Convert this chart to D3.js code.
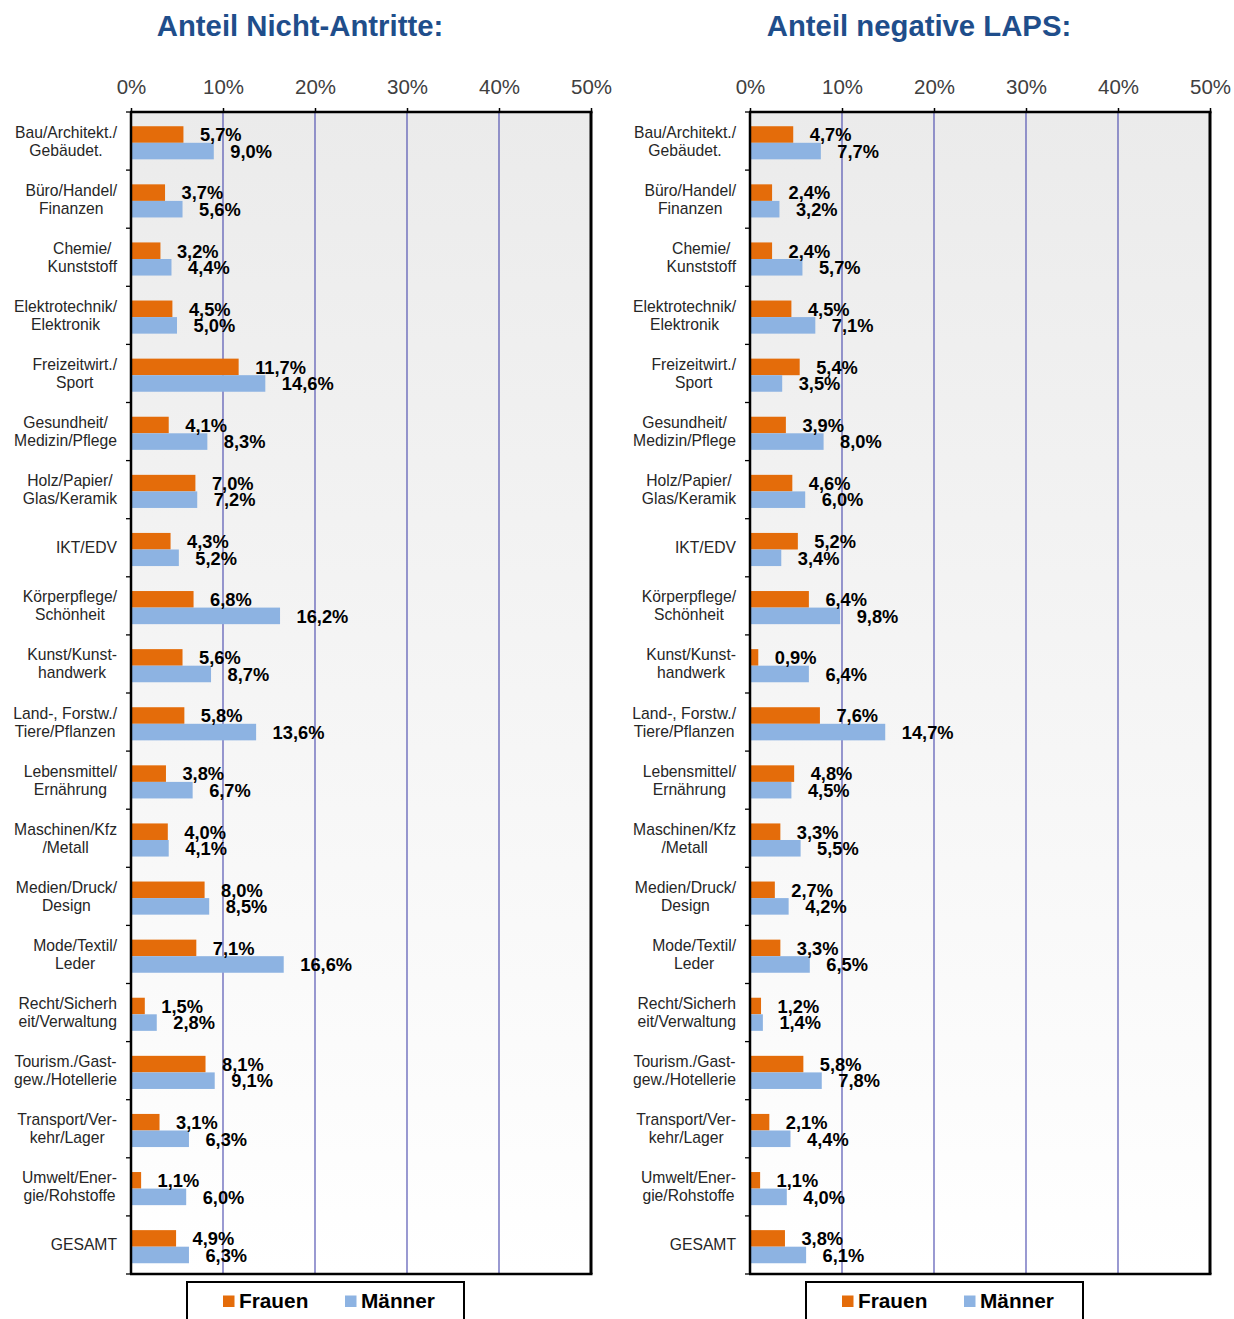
<!DOCTYPE html>
<html>
<head>
<meta charset="utf-8">
<script src="https://cdn.jsdelivr.net/npm/d3@7"></script>
<style>
  body { margin: 0; background: #fff; }
  svg { display: block; font-family: Arial, "Liberation Sans", sans-serif; }
</style>
</head>
<body>
<div id="chart"></div>
<script>
// categories (label lines)
let categories = [
    ['Bau/Architekt./', 'Gebäudet.'],
    ['Büro/Handel/', 'Finanzen'],
    ['Chemie/', 'Kunststoff'],
    ['Elektrotechnik/', 'Elektronik'],
    ['Freizeitwirt./', 'Sport'],
    ['Gesundheit/', 'Medizin/Pflege'],
    ['Holz/Papier/', 'Glas/Keramik'],
    ['IKT/EDV'],
    ['Körperpflege/', 'Schönheit'],
    ['Kunst/Kunst-', 'handwerk'],
    ['Land-, Forstw./', 'Tiere/Pflanzen'],
    ['Lebensmittel/', 'Ernährung'],
    ['Maschinen/Kfz', '/Metall'],
    ['Medien/Druck/', 'Design'],
    ['Mode/Textil/', 'Leder'],
    ['Recht/Sicherh', 'eit/Verwaltung'],
    ['Tourism./Gast-', 'gew./Hotellerie'],
    ['Transport/Ver-', 'kehr/Lager'],
    ['Umwelt/Ener-', 'gie/Rohstoffe'],
    ['GESAMT']
];

// Anteil Nicht-Antritte (%)
let antritteFrauen = [5.7, 3.7, 3.2, 4.5, 11.7, 4.1, 7.0, 4.3, 6.8, 5.6, 5.8, 3.8, 4.0, 8.0, 7.1, 1.5, 8.1, 3.1, 1.1, 4.9];
let antritteMaenner = [9.0, 5.6, 4.4, 5.0, 14.6, 8.3, 7.2, 5.2, 16.2, 8.7, 13.6, 6.7, 4.1, 8.5, 16.6, 2.8, 9.1, 6.3, 6.0, 6.3];

// Anteil negative LAPS (%)
let lapsFrauen = [4.7, 2.4, 2.4, 4.5, 5.4, 3.9, 4.6, 5.2, 6.4, 0.9, 7.6, 4.8, 3.3, 2.7, 3.3, 1.2, 5.8, 2.1, 1.1, 3.8];
let lapsMaenner = [7.7, 3.2, 5.7, 7.1, 3.5, 8.0, 6.0, 3.4, 9.8, 6.4, 14.7, 4.5, 5.5, 4.2, 6.5, 1.4, 7.8, 4.4, 4.0, 6.1];

let xTicks = [0, 10, 20, 30, 40, 50];
let seriesNames = ['Frauen', 'Männer'];
let seriesColors = ['#e46c0a', '#8db3e2'];

let W = 1234, H = 1319;
let plotTop = 112, plotBottom = 1274, plotWidth = 460;

let svg = d3.select('#chart')
    .append('svg')
    .attr('width', W)
    .attr('height', H);

// background gradient of the plot areas
let grad = svg.append('defs').append('linearGradient')
    .attr('id', 'bg-grad')
    .attr('x1', 0).attr('y1', 0)
    .attr('x2', 0).attr('y2', 1);
grad.append('stop').attr('offset', '0%').attr('stop-color', '#ebebeb');
grad.append('stop').attr('offset', '100%').attr('stop-color', '#ffffff');

let fmt = v => v.toFixed(1).replace('.', ',') + '%';

function panel(x0, title, frauen, maenner) {
    let g = svg.append('g');
    let keys = categories.map((c, i) => i);

    let x = d3.scaleLinear().domain([0, 50]).range([x0, x0 + plotWidth]);
    let y = d3.scaleBand().domain(keys).range([plotTop, plotBottom]).padding(0);
    let bw = y.bandwidth();
    let ySub = d3.scaleBand().domain(seriesNames).range([0.245 * bw, 0.815 * bw]).padding(0);

    // title
    g.append('text')
        .attr('x', x0 + 169)
        .attr('y', 36)
        .attr('text-anchor', 'middle')
        .attr('font-size', 29.3)
        .attr('font-weight', 'bold')
        .attr('fill', '#1f4e8b')
        .text(title);

    // plot background
    g.append('rect')
        .attr('x', x0).attr('y', plotTop)
        .attr('width', plotWidth).attr('height', plotBottom - plotTop)
        .attr('fill', 'url(#bg-grad)');

    // gridlines
    g.append('g').selectAll('line')
        .data(xTicks.slice(1, -1))
        .enter().append('line')
        .attr('x1', d => x(d)).attr('x2', d => x(d))
        .attr('y1', plotTop).attr('y2', plotBottom)
        .attr('stroke', '#4646ac')
        .attr('stroke-width', 1.1);

    // top axis
    let xAxis = d3.axisTop(x)
        .tickValues(xTicks)
        .tickSize(4)
        .tickPadding(6)
        .tickFormat(d => d + '%');
    let ax = g.append('g')
        .attr('transform', 'translate(0,' + plotTop + ')')
        .call(xAxis);
    ax.select('.domain').remove();
    ax.selectAll('.tick line').attr('stroke', '#000').attr('stroke-width', 1.5);
    ax.selectAll('.tick text')
        .attr('font-size', 20.5)
        .attr('font-family', 'Arial, "Liberation Sans", sans-serif')
        .attr('fill', '#404040')
        .attr('y', -18.5);

    // bars
    let rows = g.append('g').selectAll('g')
        .data(keys)
        .enter().append('g')
        .attr('transform', d => 'translate(0,' + y(d) + ')');

    let vals = i => [
        { key: 'Frauen', value: frauen[i] },
        { key: 'Männer', value: maenner[i] }
    ];

    rows.selectAll('rect')
        .data(vals)
        .enter().append('rect')
        .attr('x', x(0))
        .attr('y', d => ySub(d.key))
        .attr('width', d => x(d.value) - x(0))
        .attr('height', ySub.bandwidth())
        .attr('fill', (d, i) => seriesColors[i]);

    rows.selectAll('text.val')
        .data(vals)
        .enter().append('text')
        .attr('class', 'val')
        .attr('x', d => x(d.value) + 16.5)
        .attr('y', d => ySub(d.key) + ySub.bandwidth() / 2 + 6.8)
        .attr('font-size', 18.3)
        .attr('font-weight', 'bold')
        .attr('fill', '#000')
        .text(d => fmt(d.value));

    // category labels: lines centered within a right-aligned block
    rows.each(function(i) {
        let lines = categories[i];
        let t = d3.select(this).append('text')
            .attr('font-size', 15.7)
            .attr('fill', '#262626')
            .attr('text-anchor', 'middle');
        let spans = t.selectAll('tspan')
            .data(lines)
            .enter().append('tspan')
            .text(d => d);
        let maxW = 0;
        spans.each(function() { maxW = Math.max(maxW, this.getComputedTextLength()); });
        let cx = x0 - 14 - maxW / 2;
        let lh = 18;
        let startY = bw / 2 - (lines.length - 1) * lh / 2 + 5.5;
        spans.attr('x', cx).attr('y', (d, k) => startY + k * lh);
    });

    // left axis ticks at category boundaries
    let bounds = keys.map(k => y(k)).concat([plotBottom]);
    g.append('g').selectAll('line')
        .data(bounds)
        .enter().append('line')
        .attr('x1', x0 - 5).attr('x2', x0)
        .attr('y1', d => d).attr('y2', d => d)
        .attr('stroke', '#000')
        .attr('stroke-width', 1.3);

    // frame
    g.append('line').attr('x1', x0 - 1).attr('x2', x0 + plotWidth + 1.5)
        .attr('y1', plotTop).attr('y2', plotTop)
        .attr('stroke', '#000').attr('stroke-width', 2.5);
    g.append('line').attr('x1', x0 - 1).attr('x2', x0 + plotWidth + 1.5)
        .attr('y1', plotBottom).attr('y2', plotBottom)
        .attr('stroke', '#000').attr('stroke-width', 2.5);
    g.append('line').attr('x1', x0).attr('x2', x0)
        .attr('y1', plotTop).attr('y2', plotBottom)
        .attr('stroke', '#000').attr('stroke-width', 2.5);
    g.append('line').attr('x1', x0 + plotWidth).attr('x2', x0 + plotWidth)
        .attr('y1', plotTop).attr('y2', plotBottom)
        .attr('stroke', '#000').attr('stroke-width', 3);

    // legend
    let lg = g.append('g');
    lg.append('rect')
        .attr('x', x0 + 56).attr('y', 1282)
        .attr('width', 277).attr('height', 60)
        .attr('fill', '#fff')
        .attr('stroke', '#000')
        .attr('stroke-width', 2);
    let items = lg.selectAll('g')
        .data(seriesNames)
        .enter().append('g')
        .attr('transform', (d, i) => 'translate(' + (x0 + 92 + i * 122) + ',0)');
    items.append('rect')
        .attr('x', 0).attr('y', 1295.5)
        .attr('width', 11.5).attr('height', 11.5)
        .attr('fill', (d, i) => seriesColors[i]);
    items.append('text')
        .attr('x', 16)
        .attr('y', 1308)
        .attr('font-size', 20.8)
        .attr('font-weight', 'bold')
        .attr('fill', '#000')
        .text(d => d);
}

panel(131, 'Anteil Nicht-Antritte:', antritteFrauen, antritteMaenner);
panel(750, 'Anteil negative LAPS:', lapsFrauen, lapsMaenner);
</script>
</body>
</html>
